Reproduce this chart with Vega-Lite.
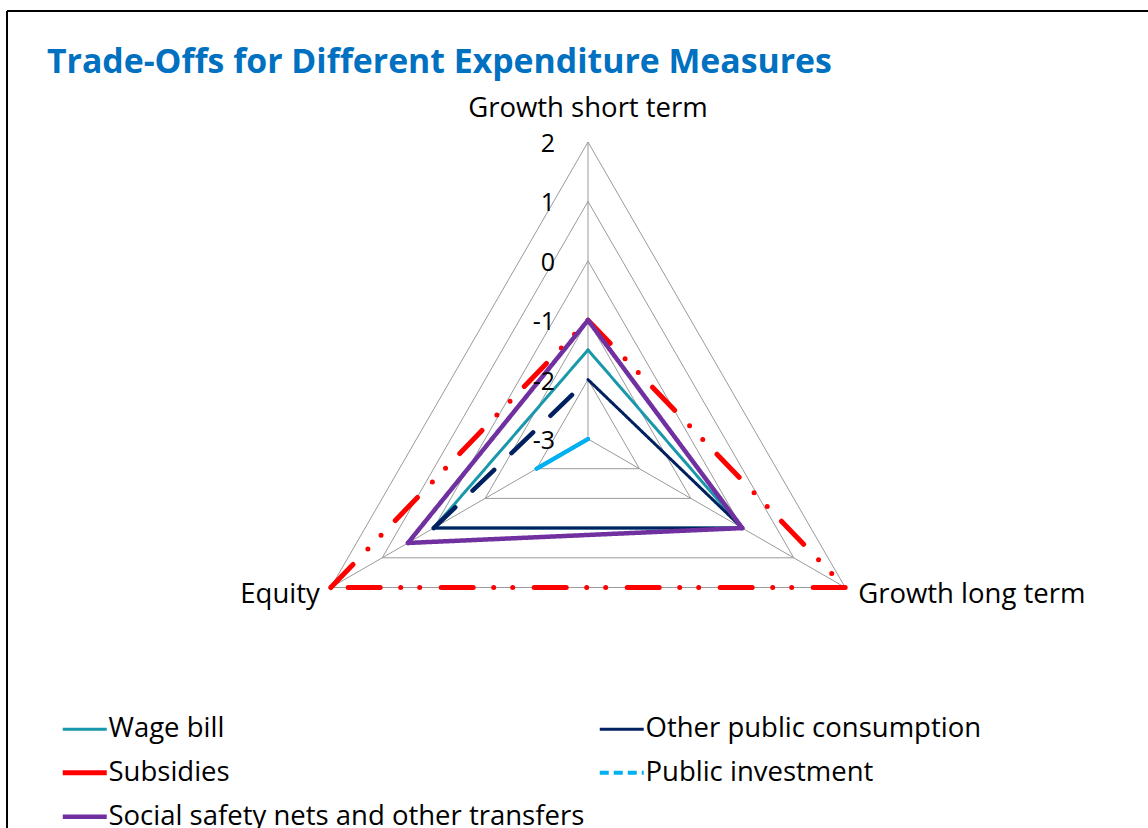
{
  "$schema": "https://vega.github.io/schema/vega-lite/v6.json",
  "width": 1148,
  "height": 828,
  "padding": 0,
  "autosize": {"type": "none"},
  "background": "white",
  "config": {"view": {"stroke": null}, "font": "Open Sans"},
  "title": {
    "text": "Trade-Offs for Different Expenditure Measures",
    "anchor": "start",
    "frame": "group",
    "orient": "top",
    "offset": -107,
    "dx": 47,
    "baseline": "alphabetic",
    "fontSize": 33.8,
    "font": "Open Sans",
    "fontWeight": "bold",
    "color": "#0070C0"
  },
  "datasets": {
    "scores": [
      {"measure": "Wage bill", "axis": "Growth short term", "value": -1.5},
      {"measure": "Wage bill", "axis": "Growth long term", "value": 0},
      {"measure": "Wage bill", "axis": "Equity", "value": 0},
      {"measure": "Other public consumption", "axis": "Growth short term", "value": -2},
      {"measure": "Other public consumption", "axis": "Growth long term", "value": 0},
      {"measure": "Other public consumption", "axis": "Equity", "value": 0},
      {"measure": "Subsidies", "axis": "Growth short term", "value": -1},
      {"measure": "Subsidies", "axis": "Growth long term", "value": 2},
      {"measure": "Subsidies", "axis": "Equity", "value": 2},
      {"measure": "Public investment", "axis": "Growth short term", "value": -3},
      {"measure": "Public investment", "axis": "Growth long term", "value": -3},
      {"measure": "Public investment", "axis": "Equity", "value": -2},
      {"measure": "Social safety nets and other transfers", "axis": "Growth short term", "value": -1},
      {"measure": "Social safety nets and other transfers", "axis": "Growth long term", "value": 0},
      {"measure": "Social safety nets and other transfers", "axis": "Equity", "value": 0.5}
    ],
    "axes": [
      {"axis": "Growth short term", "k": 0},
      {"axis": "Growth long term", "k": 1},
      {"axis": "Equity", "k": 2}
    ],
    "levels": [
      {"level": -3}, {"level": -2}, {"level": -1}, {"level": 0}, {"level": 1}, {"level": 2}
    ],
    "frame": [{"edge": "border"}]
  },
  "layer": [
    {
      "data": {"name": "frame"},
      "mark": {"type": "rule", "color": "black", "strokeWidth": 2},
      "encoding": {
        "x": {"datum": -9.781, "type": "quantitative", "scale": {"domain": [-9.899, 9.428], "nice": false, "zero": false}, "axis": null},
        "y": {"datum": 7.205, "type": "quantitative", "scale": {"domain": [-6.549, 7.391], "nice": false, "zero": false}, "axis": null},
        "x2": {"datum": 9.6}
      }
    },
    {
      "data": {"name": "frame"},
      "mark": {"type": "rule", "color": "black", "strokeWidth": 2},
      "encoding": {
        "x": {"datum": -9.781, "type": "quantitative", "scale": {"domain": [-9.899, 9.428], "nice": false, "zero": false}, "axis": null},
        "y": {"datum": 7.205, "type": "quantitative", "scale": {"domain": [-6.549, 7.391], "nice": false, "zero": false}, "axis": null},
        "y2": {"datum": -7}
      }
    },
    {
      "data": {"name": "levels"},
      "transform": [
        {"calculate": "datum.level + 3", "as": "r"},
        {"calculate": "0", "as": "xs"},
        {"calculate": "datum.r", "as": "ys"},
        {"calculate": "datum.r * sqrt(3) / 2", "as": "xl"},
        {"calculate": "-datum.r / 2", "as": "yl"},
        {"calculate": "-datum.r * sqrt(3) / 2", "as": "xe"},
        {"calculate": "-datum.r / 2", "as": "ye"}
      ],
      "layer": [
        {
          "mark": {"type": "rule", "color": "#9a9a9a", "strokeWidth": 1},
          "encoding": {
            "x": {"field": "xs", "type": "quantitative", "scale": {"domain": [-9.899, 9.428], "nice": false, "zero": false}, "axis": null},
            "y": {"field": "ys", "type": "quantitative", "scale": {"domain": [-6.549, 7.391], "nice": false, "zero": false}, "axis": null},
            "x2": {"field": "xl"},
            "y2": {"field": "yl"}
          }
        },
        {
          "mark": {"type": "rule", "color": "#9a9a9a", "strokeWidth": 1},
          "encoding": {
            "x": {"field": "xl", "type": "quantitative", "scale": {"domain": [-9.899, 9.428], "nice": false, "zero": false}, "axis": null},
            "y": {"field": "yl", "type": "quantitative", "scale": {"domain": [-6.549, 7.391], "nice": false, "zero": false}, "axis": null},
            "x2": {"field": "xe"},
            "y2": {"field": "ye"}
          }
        },
        {
          "mark": {"type": "rule", "color": "#9a9a9a", "strokeWidth": 1},
          "encoding": {
            "x": {"field": "xe", "type": "quantitative", "scale": {"domain": [-9.899, 9.428], "nice": false, "zero": false}, "axis": null},
            "y": {"field": "ye", "type": "quantitative", "scale": {"domain": [-6.549, 7.391], "nice": false, "zero": false}, "axis": null},
            "x2": {"field": "xs"},
            "y2": {"field": "ys"}
          }
        }
      ]
    },
    {
      "data": {"name": "axes"},
      "transform": [
        {"calculate": "PI / 2 - datum.k * 2 * PI / 3", "as": "ang"},
        {"calculate": "5 * cos(datum.ang)", "as": "vx"},
        {"calculate": "5 * sin(datum.ang)", "as": "vy"}
      ],
      "mark": {"type": "rule", "color": "#9a9a9a", "strokeWidth": 1},
      "encoding": {
        "x": {"field": "vx", "type": "quantitative", "scale": {"domain": [-9.899, 9.428], "nice": false, "zero": false}, "axis": null},
        "y": {"field": "vy", "type": "quantitative", "scale": {"domain": [-6.549, 7.391], "nice": false, "zero": false}, "axis": null},
        "x2": {"datum": 0},
        "y2": {"datum": 0}
      }
    },
    {
      "data": {"name": "scores"},
      "transform": [
        {"pivot": "axis", "value": "value", "groupby": ["measure"]},
        {"calculate": "datum['Growth short term'] + 3", "as": "rs"},
        {"calculate": "datum['Growth long term'] + 3", "as": "rl"},
        {"calculate": "datum['Equity'] + 3", "as": "re"},
        {"calculate": "0", "as": "xs"},
        {"calculate": "datum.rs", "as": "ys"},
        {"calculate": "datum.rl * sqrt(3) / 2", "as": "xl"},
        {"calculate": "-datum.rl / 2", "as": "yl"},
        {"calculate": "-datum.re * sqrt(3) / 2", "as": "xe"},
        {"calculate": "-datum.re / 2", "as": "ye"}
      ],
      "layer": [
        {
          "mark": {"type": "rule", "strokeCap": "round"},
          "encoding": {
            "x": {"field": "xs", "type": "quantitative", "scale": {"domain": [-9.899, 9.428], "nice": false, "zero": false}, "axis": null},
            "y": {"field": "ys", "type": "quantitative", "scale": {"domain": [-6.549, 7.391], "nice": false, "zero": false}, "axis": null},
            "x2": {"field": "xl"},
            "y2": {"field": "yl"},
            "color": {
              "field": "measure",
              "type": "nominal",
              "scale": {
                "domain": ["Wage bill", "Other public consumption", "Subsidies", "Public investment", "Social safety nets and other transfers"],
                "range": ["#1a98ab", "#002060", "#ff0000", "#00b0f0", "#7030a0"]
              },
              "legend": {
                "orient": "none",
                "legendX": 60,
                "legendY": 715,
                "direction": "horizontal",
                "columns": 2,
                "title": null,
                "symbolType": "stroke",
                "symbolSize": 1936,
                "symbolStrokeWidth": 3,
                "symbolOffset": 11,
                "labelFontSize": 27.5,
                "labelFont": "Open Sans",
                "labelColor": "#000000",
                "labelOffset": 10,
                "labelLimit": 0,
                "columnPadding": 6,
                "rowPadding": 15,
                "encode": {
                  "symbols": {
                    "update": {
                      "strokeDash": {"signal": "datum.value === 'Public investment' ? [9, 5] : [1, 0]"},
                      "strokeWidth": {"signal": "datum.value === 'Subsidies' ? 5 : datum.value === 'Social safety nets and other transfers' ? 4.5 : datum.value === 'Public investment' ? 4 : 3"}
                    }
                  }
                }
              }
            },
            "strokeWidth": {
              "condition": [
                {"test": "datum.measure === 'Subsidies'", "value": 5},
                {"test": "datum.measure === 'Social safety nets and other transfers'", "value": 4.5},
                {"test": "datum.measure === 'Public investment'", "value": 4}
              ],
              "value": 3
            },
            "strokeDash": {
              "condition": [
                {"test": "datum.measure === 'Subsidies'", "value": [32, 21.5, 0, 19, 0, 20.5]}
              ],
              "value": [1, 0]
            }
          }
        },
        {
          "mark": {"type": "rule", "strokeCap": "round"},
          "encoding": {
            "x": {"field": "xl", "type": "quantitative", "scale": {"domain": [-9.899, 9.428], "nice": false, "zero": false}, "axis": null},
            "y": {"field": "yl", "type": "quantitative", "scale": {"domain": [-6.549, 7.391], "nice": false, "zero": false}, "axis": null},
            "x2": {"field": "xe"},
            "y2": {"field": "ye"},
            "color": {"field": "measure", "type": "nominal"},
            "strokeWidth": {
              "condition": [
                {"test": "datum.measure === 'Subsidies'", "value": 5},
                {"test": "datum.measure === 'Social safety nets and other transfers'", "value": 4.5},
                {"test": "datum.measure === 'Public investment'", "value": 4}
              ],
              "value": 3
            },
            "strokeDash": {
              "condition": [
                {"test": "datum.measure === 'Subsidies'", "value": [32, 21.5, 0, 19, 0, 20.5]}
              ],
              "value": [1, 0]
            }
          }
        },
        {
          "mark": {"type": "rule", "strokeCap": "round"},
          "encoding": {
            "x": {"field": "xe", "type": "quantitative", "scale": {"domain": [-9.899, 9.428], "nice": false, "zero": false}, "axis": null},
            "y": {"field": "ye", "type": "quantitative", "scale": {"domain": [-6.549, 7.391], "nice": false, "zero": false}, "axis": null},
            "x2": {"field": "xs"},
            "y2": {"field": "ys"},
            "color": {"field": "measure", "type": "nominal"},
            "strokeWidth": {
              "condition": [
                {"test": "datum.measure === 'Subsidies'", "value": 5},
                {"test": "datum.measure === 'Social safety nets and other transfers'", "value": 4.5},
                {"test": "datum.measure === 'Public investment'", "value": 4},
                {"test": "datum.measure === 'Other public consumption'", "value": 4.5}
              ],
              "value": 3
            },
            "strokeDash": {
              "condition": [
                {"test": "datum.measure === 'Subsidies'", "value": [32, 21.5, 0, 19, 0, 20.5]},
                {"test": "datum.measure === 'Other public consumption'", "value": [30, 24]}
              ],
              "value": [1, 0]
            }
          }
        }
      ]
    },
    {
      "data": {"name": "levels"},
      "transform": [{"calculate": "datum.level + 3", "as": "r"}],
      "mark": {"type": "text", "align": "right", "baseline": "middle", "dx": -33, "dy": 2, "fontSize": 25, "font": "Open Sans", "color": "#000000"},
      "encoding": {
        "x": {"datum": 0, "type": "quantitative", "scale": {"domain": [-9.899, 9.428], "nice": false, "zero": false}, "axis": null},
        "y": {"field": "r", "type": "quantitative", "scale": {"domain": [-6.549, 7.391], "nice": false, "zero": false}, "axis": null},
        "text": {"field": "level", "type": "nominal"}
      }
    },
    {
      "data": {"name": "axes"},
      "transform": [
        {"calculate": "PI / 2 - datum.k * 2 * PI / 3", "as": "ang"},
        {"calculate": "5 * cos(datum.ang)", "as": "vx"},
        {"calculate": "5 * sin(datum.ang)", "as": "vy"}
      ],
      "layer": [
        {
          "transform": [{"filter": "datum.axis === 'Growth short term'"}],
          "mark": {"type": "text", "align": "center", "baseline": "middle", "dy": -33, "fontSize": 27.5, "font": "Open Sans", "color": "#000000"},
          "encoding": {
            "x": {"field": "vx", "type": "quantitative", "scale": {"domain": [-9.899, 9.428], "nice": false, "zero": false}, "axis": null},
            "y": {"field": "vy", "type": "quantitative", "scale": {"domain": [-6.549, 7.391], "nice": false, "zero": false}, "axis": null},
            "text": {"field": "axis", "type": "nominal"}
          }
        },
        {
          "transform": [{"filter": "datum.axis === 'Growth long term'"}],
          "mark": {"type": "text", "align": "left", "baseline": "middle", "dx": 13, "dy": 8, "fontSize": 27.5, "font": "Open Sans", "color": "#000000"},
          "encoding": {
            "x": {"field": "vx", "type": "quantitative", "scale": {"domain": [-9.899, 9.428], "nice": false, "zero": false}, "axis": null},
            "y": {"field": "vy", "type": "quantitative", "scale": {"domain": [-6.549, 7.391], "nice": false, "zero": false}, "axis": null},
            "text": {"field": "axis", "type": "nominal"}
          }
        },
        {
          "transform": [{"filter": "datum.axis === 'Equity'"}],
          "mark": {"type": "text", "align": "right", "baseline": "middle", "dx": -11, "dy": 8, "fontSize": 27.5, "font": "Open Sans", "color": "#000000"},
          "encoding": {
            "x": {"field": "vx", "type": "quantitative", "scale": {"domain": [-9.899, 9.428], "nice": false, "zero": false}, "axis": null},
            "y": {"field": "vy", "type": "quantitative", "scale": {"domain": [-6.549, 7.391], "nice": false, "zero": false}, "axis": null},
            "text": {"field": "axis", "type": "nominal"}
          }
        }
      ]
    }
  ]
}
